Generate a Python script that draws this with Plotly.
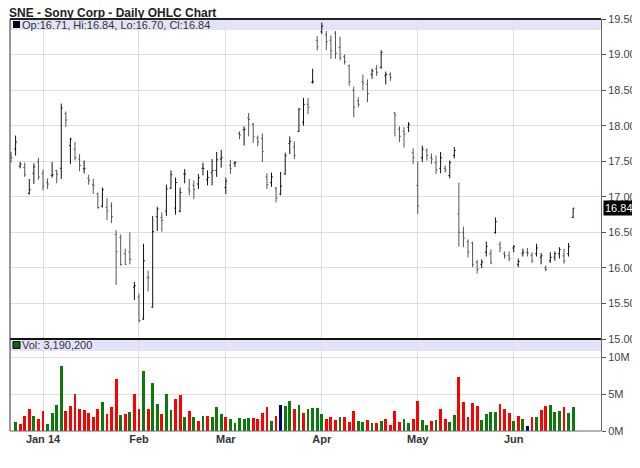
import plotly.graph_objects as go

# ---------------- data ----------------
opens = [17.58,17.67,17.43,17.41,17.05,17.33,17.49,17.33,17.20,17.30,17.37,17.40,18.17,17.72,17.67,17.53,17.39,17.26,17.17,17.04,
         16.87,16.85,16.87,16.47,16.43,16.20,16.22,15.73,15.59,15.28,15.87,15.45,16.72,16.71,16.80,17.12,16.84,16.80,17.32,17.11,
         17.16,17.18,17.40,17.24,17.34,17.37,17.53,17.13,17.44,17.47,17.89,17.94,18.11,18.02,17.83,17.82,17.28,17.20,17.12,17.04,
         17.32,17.75,17.70,17.92,18.05,18.30,18.61,19.20,19.32,19.28,19.20,19.30,19.10,18.97,18.84,18.50,18.35,18.62,18.58,18.72,
         18.80,18.82,18.70,18.72,18.18,17.95,17.92,17.98,17.62,17.16,17.55,17.65,17.55,17.48,17.40,17.40,17.30,17.58,16.76,16.50,
         16.37,16.35,16.08,16.05,16.22,16.20,16.50,16.33,16.20,16.17,16.28,16.05,16.20,16.22,16.18,16.20,16.15,16.00,16.10,16.15,
         16.20,16.17,16.20,16.71]
highs = [17.63,17.86,17.49,17.48,17.25,17.47,17.55,17.38,17.26,17.49,17.38,18.31,18.20,17.83,17.77,17.60,17.51,17.31,17.25,17.06,
         17.13,16.98,16.92,16.53,16.47,16.27,16.50,15.80,15.64,16.34,15.96,16.73,16.86,16.78,17.17,17.37,17.27,17.13,17.39,17.25,
         17.23,17.32,17.48,17.37,17.53,17.63,17.66,17.27,17.52,17.50,17.92,17.99,18.18,18.04,17.86,17.89,17.33,17.34,17.14,17.35,
         17.62,17.85,17.78,18.25,18.39,18.39,18.80,19.26,19.45,19.33,19.27,19.33,19.25,19.00,18.86,18.55,18.40,18.72,18.65,18.80,
         18.85,19.06,18.76,18.75,18.19,17.99,17.98,18.05,17.68,17.50,17.72,17.68,17.61,17.58,17.63,17.44,17.51,17.70,17.20,16.58,
         16.40,16.37,16.11,16.12,16.37,16.26,16.71,16.37,16.23,16.23,16.32,16.13,16.27,16.28,16.22,16.34,16.21,16.03,16.22,16.23,
         16.29,16.27,16.35,16.84]
lows = [17.48,17.58,17.40,17.28,17.03,17.18,17.24,17.09,17.11,17.27,17.19,17.25,17.98,17.46,17.51,17.36,17.33,17.17,17.04,16.83,
        16.85,16.67,16.63,15.76,16.03,16.04,16.05,15.55,15.23,15.27,15.67,15.44,16.52,16.51,16.73,17.11,16.75,16.78,17.19,17.02,
        16.97,17.11,17.30,17.16,17.16,17.28,17.41,17.04,17.32,17.42,17.81,17.72,17.85,17.76,17.71,17.49,17.11,17.14,16.92,17.02,
        17.31,17.60,17.53,17.91,18.00,18.16,18.59,19.06,19.29,19.06,18.94,18.94,18.92,18.86,18.56,18.12,18.26,18.50,18.33,18.66,
        18.70,18.80,18.58,18.63,17.85,17.77,17.69,17.91,17.46,16.76,17.49,17.51,17.46,17.32,17.33,17.34,17.26,17.54,16.30,16.29,
        16.15,16.01,15.92,16.00,16.16,16.05,16.48,16.22,16.13,16.09,16.22,16.01,16.16,16.16,16.07,16.16,16.05,15.95,16.07,16.10,
        16.13,16.06,16.16,16.70]
closes = [17.55,17.77,17.46,17.31,17.10,17.42,17.28,17.15,17.18,17.31,17.32,18.25,18.08,17.81,17.55,17.44,17.40,17.23,17.16,16.85,
          17.10,16.80,16.72,16.23,16.05,16.05,16.12,15.75,15.26,16.10,15.86,16.51,16.83,16.67,17.11,17.31,17.20,17.06,17.32,17.08,
          17.10,17.27,17.40,17.27,17.37,17.52,17.55,17.22,17.40,17.48,17.87,17.95,18.09,17.85,17.77,17.64,17.17,17.28,16.98,17.15,
          17.58,17.78,17.58,18.23,18.30,18.26,18.62,19.11,19.40,19.18,19.05,19.02,18.95,18.90,18.62,18.26,18.30,18.60,18.45,18.77,
          18.75,19.03,18.72,18.68,18.15,17.85,17.88,18.02,17.55,16.87,17.67,17.58,17.53,17.38,17.55,17.38,17.48,17.65,16.50,16.42,
          16.22,16.05,15.98,16.08,16.30,16.07,16.65,16.28,16.17,16.13,16.30,16.09,16.22,16.21,16.10,16.28,16.17,15.98,16.15,16.20,
          16.26,16.10,16.30,16.84]
volume_m = [None,1.16,0.93,2.04,2.96,2.04,1.67,2.69,0.93,2.41,3.56,8.80,2.69,3.43,4.95,2.96,2.87,2.41,1.94,2.96,
            3.94,2.31,3.19,7.04,2.18,2.31,2.55,4.95,2.96,8.15,2.96,6.48,3.70,2.31,4.95,2.87,4.35,4.81,1.94,2.69,
            1.85,1.39,2.04,2.04,1.85,3.19,2.31,1.94,1.57,1.02,1.71,1.62,1.71,1.71,1.57,2.41,3.19,1.34,2.04,3.56,
            3.33,4.12,2.96,3.47,2.41,2.96,3.10,3.10,2.27,1.57,1.94,1.48,1.94,1.85,1.16,2.73,1.30,1.16,1.48,1.06,
            1.06,1.30,1.62,0.79,2.73,1.20,1.62,1.06,1.62,4.03,1.48,0.79,1.30,1.48,3.01,1.62,1.20,2.18,7.27,3.94,
            1.85,3.80,3.33,1.48,2.31,2.55,2.55,3.70,2.96,2.41,1.30,2.04,1.57,0.69,1.85,1.85,2.87,3.33,3.47,2.59,
            2.73,3.24,2.50,3.19]
volume_dir = list("ggrrrgrrgggg" "rrrrrrrr" "grrrgrgrrgrggrggrrgrgrgrggg" "rgggggrrrrgrbggrgrggg"
                  "grrrgrrrggrgrgrrrrggr" "rggrgrrggrrrrrggggrrr" "grgbrgrrgggrgg")
last_volume = 3190200
month_idx = [7, 28, 47, 68, 89, 110]
month_labels = ["Jan 14", "Feb", "Mar", "Apr", "May", "Jun"]
price_ticks = [15.0, 15.5, 16.0, 16.5, 17.0, 17.5, 18.0, 18.5, 19.0, 19.5]
vol_ticks = [0, 5e6, 10e6]
vol_tick_labels = ["0M", "5M", "10M"]

# ---------------- layout geometry (screen pixels; page body has an 8px margin) ----------------
OFF = 8
W, H = 640 - OFF, 468 - OFF
LEFT, RIGHT, TOP, BOTTOM = 10, 601, 19, 431   # plot area in screen pixels
pw, ph = RIGHT - LEFT, BOTTOM - TOP

def px(x):
    return (x - LEFT) / pw

def py(y):
    return (BOTTOM - y) / ph

split = py(339)
xs = list(range(len(closes)))
vols = [None if v is None else v * 1e6 for v in volume_m]
cmap = {"g": "#0a7a0a", "r": "#ff0000", "b": "#000080"}
vcolors = [cmap[c] for c in volume_dir]

fig = go.Figure()
fig.add_trace(go.Ohlc(x=xs, open=opens, high=highs, low=lows, close=closes,
                      increasing=dict(line=dict(color="#111111", width=1)),
                      decreasing=dict(line=dict(color="#555555", width=1)),
                      tickwidth=0.3, xaxis="x", yaxis="y", showlegend=False, hoverinfo="skip"))
fig.add_trace(go.Bar(x=xs, y=vols, marker=dict(color=vcolors, line=dict(width=0)),
                     width=0.62, xaxis="x2", yaxis="y2", showlegend=False, hoverinfo="skip"))

grid = "#dedede"
font = "Liberation Sans, Arial, sans-serif"
xr = [-0.22, 129.1]
fig.update_layout(
    width=W, height=H,
    margin=dict(l=LEFT - OFF, r=640 - RIGHT, t=TOP - OFF, b=468 - BOTTOM, pad=0),
    paper_bgcolor="white", plot_bgcolor="white",
    font=dict(family=font, size=11, color="#333333"),
    bargap=0,
    xaxis=dict(domain=[0, 1], range=xr, anchor="y", showticklabels=False,
               tickvals=month_idx, showgrid=True, gridcolor=grid, gridwidth=1,
               zeroline=False, rangeslider=dict(visible=False), fixedrange=True),
    xaxis2=dict(domain=[0, 1], range=xr, anchor="y2", matches="x",
                tickvals=month_idx, ticktext=month_labels, ticks="",
                tickfont=dict(family=font, size=11, color="#333333", weight="bold"),
                showgrid=True, gridcolor=grid, gridwidth=1, zeroline=False),
    yaxis=dict(domain=[split, 1], range=[15.0, 19.5], side="right", anchor="x",
               tickvals=price_ticks, tickformat=".2f", ticks="outside", ticklen=4,
               tickcolor="#555555", showline=True, linecolor="#666666", linewidth=1,
               showgrid=True, gridcolor=grid, zeroline=False,
               tickfont=dict(family=font, size=11, color="#444444")),
    yaxis2=dict(domain=[0, split], range=[0, 12.45e6], side="right", anchor="x2",
                tickvals=vol_ticks, ticktext=vol_tick_labels, ticks="outside", ticklen=4,
                tickcolor="#555555", showline=True, linecolor="#666666", linewidth=1,
                showgrid=True, gridcolor=grid, zeroline=False,
                tickfont=dict(family=font, size=11, color="#444444")),
)

shapes = []
shapes.append(dict(type="rect", xref="paper", yref="paper", x0=0, x1=1, y0=py(30), y1=1,
                   fillcolor="#e3e3fa", line=dict(width=0), layer="below"))
shapes.append(dict(type="rect", xref="paper", yref="paper", x0=0, x1=1, y0=py(351), y1=split,
                   fillcolor="#e3e3fa", line=dict(width=0), layer="below"))
shapes.append(dict(type="rect", xref="paper", yref="paper", x0=px(13), x1=px(20), y0=py(28), y1=py(21),
                   fillcolor="#000000", line=dict(width=0)))
shapes.append(dict(type="rect", xref="paper", yref="paper", x0=px(13), x1=px(20), y0=py(348.5), y1=py(341.5),
                   fillcolor="#0a6a0a", line=dict(color="#000000", width=1)))
shapes.append(dict(type="line", xref="paper", yref="paper", x0=0, x1=1, y0=1, y1=1,
                   line=dict(color="#222222", width=2)))
shapes.append(dict(type="line", xref="paper", yref="paper", x0=0, x1=1, y0=split, y1=split,
                   line=dict(color="#111111", width=2)))
shapes.append(dict(type="line", xref="paper", yref="paper", x0=0, x1=1, y0=0, y1=0,
                   line=dict(color="#666666", width=1)))
shapes.append(dict(type="line", xref="paper", yref="paper", x0=0, x1=0, y0=0, y1=1,
                   line=dict(color="#333333", width=1)))
fig.update_layout(shapes=shapes)

header = f"Op:{opens[-1]:.2f}, Hi:{highs[-1]:.2f}, Lo:{lows[-1]:.2f}, Cl:{closes[-1]:.2f}"
annotations = [
    dict(text="<b>SNE - Sony Corp - Daily OHLC Chart</b>", xref="paper", yref="paper",
         x=px(8), y=py(13.5), xanchor="left", yanchor="middle", showarrow=False, borderpad=0,
         font=dict(family=font, size=12, color="#222222")),
    dict(text=header, xref="paper", yref="paper", x=px(21), y=py(25), xanchor="left",
         yanchor="middle", showarrow=False, borderpad=0,
         font=dict(family=font, size=11, color="#333333")),
    dict(text=f"Vol: {last_volume:,}", xref="paper", yref="paper", x=px(21), y=py(345),
         xanchor="left", yanchor="middle", showarrow=False, borderpad=0,
         font=dict(family=font, size=11, color="#333333")),
    dict(text=f"{closes[-1]:.2f}", xref="paper", yref="y", x=px(603), y=closes[-1],
         xanchor="left", yanchor="middle", showarrow=False, bgcolor="#000000", borderpad=1,
         font=dict(family=font, size=11, color="#ffffff")),
]
fig.update_layout(annotations=annotations)

fig.write_html("out.html", config=dict(displayModeBar=False))
